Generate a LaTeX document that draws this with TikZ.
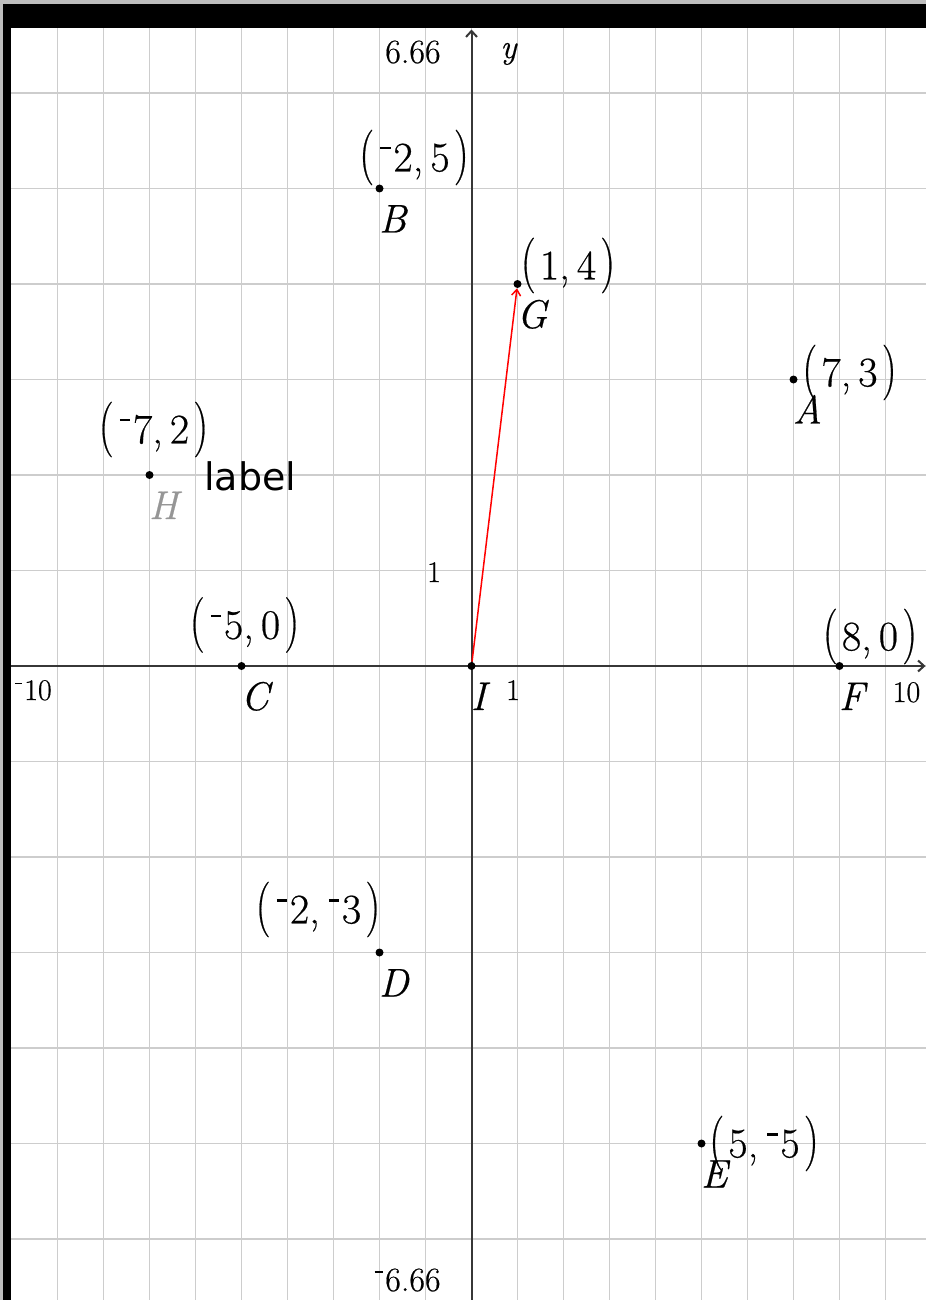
\documentclass[tikz,border=0pt]{standalone}
\usepackage{fontspec}
\setmainfont{Latin Modern Roman}[FakeBold=0.5]
\newfontfamily\sansf{DejaVu Sans}
\usepackage{graphicx}
\usetikzlibrary{arrows.meta}
\definecolor{gridc}{RGB}{205,205,205}
\definecolor{axisc}{RGB}{55,55,55}
\definecolor{edgec}{RGB}{190,190,190}
\definecolor{hgray}{RGB}{150,150,150}
\newcommand\lpar{\scalebox{1}[1.32]{(}}
\newcommand\rpar{\scalebox{1}[1.32]{)}}
\newcommand\smin{\kern0.05em\rule[0.52em]{0.25em}{0.055em}\kern0.06em}
\newcommand\cpair[2]{\lpar\kern0.1em#1,\kern0.17em#2\kern0.1em\rpar}
\pgfdeclarelayer{back}
\pgfdeclarelayer{mid}
\pgfsetlayers{back,mid,main}
\begin{document}
\begin{tikzpicture}[x=0.5pt,y=-0.5pt,
  dot/.style={circle,fill=black,inner sep=0pt,minimum size=4pt},
  coord/.style={font=\fontsize{21}{25}\selectfont,inner sep=0pt,anchor=center},
  letter/.style={font=\fontsize{20}{24}\selectfont\itshape,inner sep=0pt,anchor=base west},
  tick/.style={font=\fontsize{15}{18}\selectfont,inner sep=0pt},
  bigtick/.style={font=\fontsize{17}{20}\selectfont,inner sep=0pt,anchor=base east},
  gridline/.style={gridc,line width=0.75pt},
  axis/.style={axisc,line width=1pt,-{Straight Barb[length=3pt,width=5.5pt]}},
  vec/.style={red,line width=0.75pt,-{Straight Barb[length=3pt,width=4.5pt]}}]
\useasboundingbox (0,0) rectangle (926,1300);
\begin{pgfonlayer}{back}
\fill[edgec] (0,0) rectangle (926,1300);
\fill[white] (10.5,28.5) rectangle (926,1300);
\foreach \a in {-9,...,9} \draw[gridline] ({471.5+46*\a},28.5) -- ({471.5+46*\a},1300);
\foreach \b in {-6,...,6} \draw[gridline] (10.5,{666-95.5*\b}) -- (926,{666-95.5*\b});
\coordinate (xl) at (10.5,666);
\coordinate (xr) at (925.5,666);
\coordinate (yb) at (471.5,1300);
\coordinate (yt) at (471.5,29.5);
\draw[axis] (xl) -- (xr);
\draw[axis] (yb) -- (yt);
\end{pgfonlayer}
% points
\node[dot] (B) at (379.5,188.5) {};
\node[dot] (G) at (517.5,284) {};
\node[dot] (A) at (793.5,379.5) {};
\node[dot] (H) at (149.5,475) {};
\node[dot] (C) at (241.5,666) {};
\node[dot] (I) at (471.5,666) {};
\node[dot] (F) at (839.5,666) {};
\node[dot] (D) at (379.5,952.5) {};
\node[dot] (E) at (701.5,1143.5) {};
\begin{pgfonlayer}{mid}
\draw[vec] (I) -- (G);
\end{pgfonlayer}
% letters
\node[letter] (Bl) at (378.5,232.5) {B};
\node[letter] (Gl) at (516.5,328) {G};
\node[letter] (Al) at (792.5,423.5) {A};
\node[letter,text=hgray] (Hl) at (148.5,519) {H};
\node[letter] (Cl) at (240.5,710) {C};
\node[letter] (Il) at (470.5,710) {I};
\node[letter] (Fl) at (838.5,710) {F};
\node[letter] (Dl) at (378.5,996.5) {D};
\node[letter] (El) at (700.5,1187.5) {E};
% coordinates
\node[coord] (Bc) at (414,157.5) {\cpair{\smin2}{5}};
\node[coord] (Gc) at (568,265.5) {\cpair{1}{4}};
\node[coord] (Ac) at (849.5,372.5) {\cpair{7}{3}};
\node[coord] (Hc) at (153.5,429.5) {\cpair{\smin7}{2}};
\node[coord] (Cc) at (244.5,625) {\cpair{\smin5}{0}};
\node[coord] (Fc) at (870,636.5) {\cpair{8}{0}};
\node[coord] (Dc) at (318,909.5) {\cpair{\smin2}{\smin3}};
\node[coord] (Ec) at (764,1143.5) {\cpair{5}{\smin5}};
\node[font=\sansf\fontsize{19}{23}\selectfont,inner sep=0pt,anchor=base west] (lab) at (204,490) {label};
% axis labels
\node[bigtick] (ymax) at (441,63) {6.66};
\node[bigtick] (ymin) at (441,1291) {\smin6.66};
\node[font=\fontsize{17}{20}\selectfont\itshape,inner sep=0pt,anchor=base west] (ylab) at (500,58) {y};
\node[tick,anchor=base] (y1) at (434,582) {1};
\node[tick,anchor=base] (x1) at (513,700) {1};
\node[tick,anchor=base west] (xmin) at (13,700) {\smin10};
\node[tick,anchor=base] (xmax) at (906.5,702) {10};
% frame bars
\fill[black] (3,4) rectangle (926,28.5);
\fill[black] (3,4) rectangle (10.5,1300);
\end{tikzpicture}
\end{document}
